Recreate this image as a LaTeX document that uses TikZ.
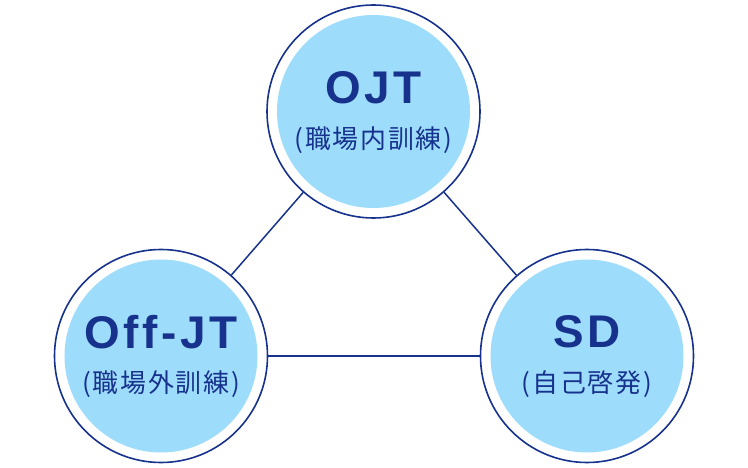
\documentclass[tikz,border=0pt]{standalone}
\usepackage{fontspec}
\setmainfont{Noto Sans CJK JP}
\newfontfamily\titlefont[LetterSpace=8]{Liberation Sans}
\newfontfamily\subfont[LetterSpace=7]{Noto Sans CJK JP}
\usetikzlibrary{positioning}

\definecolor{ringblue}{RGB}{22,50,140}
\definecolor{discblue}{RGB}{158,220,252}

\begin{document}
\begin{tikzpicture}[x=1bp, y=-1bp,
		ring/.style={circle, draw=ringblue, line width=1.6bp, fill=white, minimum size=213bp, inner sep=0pt},
		disc/.style={circle, fill=discblue, minimum size=193bp, inner sep=0pt},
		title/.style={text=ringblue, font=\titlefont\fontsize{46}{46}\selectfont\bfseries, inner sep=0pt},
		subtitle/.style={text=ringblue, font=\subfont\fontsize{26}{26}\selectfont, inner sep=0pt},
		link/.style={draw=ringblue, line width=1.5bp}]
		\useasboundingbox (0,0) rectangle (748,468);
		\foreach \n/\x/\y/\t/\s in {ojt/373.5/111.5/OJT/職場内訓練, offjt/161/356/Off-JT/職場外訓練, sd/587/356/SD/自己啓発} {
			\node[ring] (\n) at (\x,\y) {};
			\node[disc] (\n-in) at (\n) {};
			\node[title] (\n-t) at ([yshift=24bp]\n.center) {\t};
			\node[subtitle] (\n-s) at ([yshift=-28.5bp]\n.center) {(\s)};
		}
		\draw[link] (ojt) -- (offjt);
		\draw[link] (ojt) -- (sd);
		\draw[link] (offjt) -- (sd);
	\end{tikzpicture}
\end{document}
